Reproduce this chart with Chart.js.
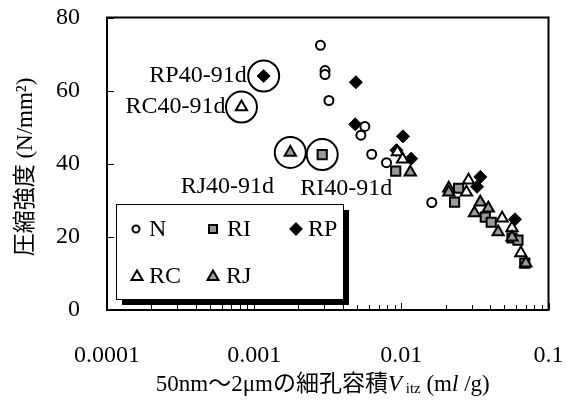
<!DOCTYPE html>
<html><head><meta charset="utf-8">
<script src="https://cdn.jsdelivr.net/npm/chart.js@4/dist/chart.umd.min.js"></script>
<style>html,body{margin:0;padding:0;background:#fff}#wrap{width:566px;height:409px}</style>
</head><body><div id="wrap"><canvas id="c" width="566" height="409"></canvas></div>
<script>
// ---- data ----
const xTickValues = [0.0001, 0.001, 0.01, 0.1];
const xTickLabels = ['0.0001', '0.001', '0.01', '0.1'];
const yTickValues = [0, 20, 40, 60, 80];

const N_x  = [0.00282, 0.00303, 0.00303, 0.00322, 0.00531, 0.00565, 0.00629, 0.00793, 0.0161];
const N_y  = [72.4, 65.5, 64.4, 57.3, 47.8, 50.2, 42.6, 40.3, 29.4];
const RI_x = [0.0029, 0.00916, 0.0245, 0.0230, 0.0372, 0.0408, 0.0565, 0.0620, 0.0690];
const RI_y = [42.5, 38.0, 33.3, 29.5, 25.4, 24.0, 19.7, 19.1, 12.8];
const RP_x = [0.00116, 0.00491, 0.00486, 0.01026, 0.00926, 0.01167, 0.0344, 0.0327, 0.0592];
const RP_y = [64.0, 62.3, 50.8, 47.5, 43.7, 41.4, 36.4, 33.7, 24.8];
const RC_x = [0.00082, 0.0094, 0.0102, 0.0210, 0.0286, 0.0277, 0.0484, 0.0565, 0.0649];
const RC_y = [55.5, 43.2, 41.2, 33.3, 35.5, 32.2, 25.1, 22.4, 15.6];
const RJ_x = [0.00176, 0.0115, 0.0210, 0.0344, 0.0314, 0.0390, 0.0455, 0.0565, 0.0701];
const RJ_y = [43.1, 37.7, 32.2, 29.5, 26.5, 27.8, 21.3, 19.9, 12.8];
const highlightNames = ['RP40-91d', 'RC40-91d', 'RJ40-91d', 'RI40-91d'];
const highlight_x = [0.00116, 0.00082, 0.00176, 0.0029];
const highlight_y = [64.0, 55.5, 43.1, 42.5];

// ---- styling ----
const FONT = "'Liberation Serif','Noto Sans CJK JP',serif";
const FS = 24;
const GRAY = '#999999';
const mk = (xs, ys) => xs.map((x, i) => ({x: x, y: ys[i]}));

const datasets = [
  {label:'RP', data:mk(RP_x,RP_y), pointStyle:'rectRot', pointRadius:6.5, backgroundColor:'#000', borderColor:'#000', borderWidth:1, order:5},
  {label:'N',  data:mk(N_x,N_y),   pointStyle:'circle',  pointRadius:4.5, backgroundColor:'#fff', borderColor:'#000', borderWidth:2, order:4},
  {label:'RI', data:mk(RI_x,RI_y), pointStyle:'rect',    pointRadius:6.5, backgroundColor:GRAY,  borderColor:'#000', borderWidth:2, order:3},
  {label:'RC', data:mk(RC_x,RC_y), pointStyle:'triangle',pointRadius:6.5, backgroundColor:'#fff', borderColor:'#000', borderWidth:2, order:2},
  {label:'RJ', data:mk(RJ_x,RJ_y), pointStyle:'triangle',pointRadius:6.5, backgroundColor:GRAY,  borderColor:'#000', borderWidth:2, order:1},
  {label:'circled', data:mk(highlight_x,highlight_y), pointStyle:'circle', pointRadius:15.5, backgroundColor:'rgba(0,0,0,0)', borderColor:'#000', borderWidth:2, order:0}
];

const framePlugin = {
  id:'frame',
  beforeDatasetsDraw(chart){
    const {ctx, chartArea:a, scales} = chart;
    ctx.save();
    ctx.strokeStyle = '#000';
    ctx.lineWidth = 2;
    ctx.strokeRect(a.left, a.top, a.right - a.left, a.bottom - a.top);
    ctx.lineWidth = 1;
    ctx.beginPath();
    yTickValues.forEach(v => {
      const y = Math.round(scales.y.getPixelForValue(v)) + 0.5;
      ctx.moveTo(a.left, y); ctx.lineTo(a.left + 7, y);
    });
    for (let d = 0; d < xTickValues.length; d++) {
      const base = xTickValues[d];
      for (let m = 1; m <= 9; m++) {
        const v = base * m;
        if (v > scales.x.max * 1.0001) break;
        const x = Math.round(scales.x.getPixelForValue(v)) + 0.5;
        ctx.moveTo(x, a.bottom); ctx.lineTo(x, a.bottom - (m === 1 ? 7 : 5));
      }
    }
    ctx.stroke();
    ctx.restore();
  }
};

const labelPlugin = {
  id:'labels',
  afterDatasetsDraw(chart){
    const {ctx, scales} = chart;
    const offs = [
      {dx:-17, dy:0, align:'right'},
      {dx:-16, dy:0, align:'right'},
      {dx:-63, dy:34, align:'center'},
      {dx:24, dy:34, align:'center'}
    ];
    ctx.save();
    ctx.fillStyle = '#000';
    ctx.font = FS + 'px ' + FONT;
    ctx.textBaseline = 'middle';
    highlightNames.forEach((name, i) => {
      const px = scales.x.getPixelForValue(highlight_x[i]);
      const py = scales.y.getPixelForValue(highlight_y[i]);
      ctx.textAlign = offs[i].align;
      ctx.fillText(name, px + offs[i].dx, py + offs[i].dy);
    });
    ctx.restore();
  }
};

function marker(ctx, style, x, y, fill) {
  ctx.beginPath();
  if (style === 'circle') { ctx.arc(x, y, 3.5, 0, Math.PI * 2); }
  else if (style === 'rect') { ctx.rect(x - 4, y - 4, 8, 8); }
  else if (style === 'rectRot') { ctx.moveTo(x, y - 5.5); ctx.lineTo(x + 5.5, y); ctx.lineTo(x, y + 5.5); ctx.lineTo(x - 5.5, y); ctx.closePath(); }
  else if (style === 'triangle') { ctx.moveTo(x, y - 5.5); ctx.lineTo(x + 5.5, y + 4); ctx.lineTo(x - 5.5, y + 4); ctx.closePath(); }
  ctx.fillStyle = fill; ctx.fill();
  ctx.lineWidth = 2; ctx.strokeStyle = '#000'; ctx.stroke();
}

const legendPlugin = {
  id:'customLegend',
  afterDraw(chart){
    const ctx = chart.ctx;
    ctx.save();
    const L = 116, T = 204, W = 227, H = 95, S = 6;
    ctx.fillStyle = '#000'; ctx.fillRect(L + S, T + S, W, H);
    ctx.fillStyle = '#fff'; ctx.fillRect(L, T, W, H);
    ctx.lineWidth = 1; ctx.strokeStyle = '#000'; ctx.strokeRect(L + 0.5, T + 0.5, W, H);
    const pos = {N:[136,229,149], RI:[213,229,227], RP:[296,229,308], RC:[137,276,149], RJ:[213,276,226]};
    ctx.font = FS + 'px ' + FONT;
    ctx.textBaseline = 'middle';
    ctx.textAlign = 'left';
    chart.data.datasets.forEach(ds => {
      const p = pos[ds.label];
      if (!p) return;
      marker(ctx, ds.pointStyle, p[0], p[1], ds.backgroundColor);
      ctx.fillStyle = '#000';
      ctx.fillText(ds.label, p[2], p[1] + 1);
    });
    ctx.restore();
  }
};

const titlePlugin = {
  id:'titles',
  afterDraw(chart){
    const ctx = chart.ctx;
    const a = chart.chartArea;
    ctx.save();
    ctx.fillStyle = '#000';
    ctx.translate(26, 167);
    ctx.rotate(-Math.PI / 2);
    ctx.font = '23px ' + FONT;
    ctx.textAlign = 'center';
    ctx.textBaseline = 'middle';
    ctx.fillText('圧縮強度 (N/mm²)', 0, 0);
    ctx.restore();
    ctx.save();
    ctx.fillStyle = '#000';
    ctx.textBaseline = 'alphabetic';
    ctx.textAlign = 'left';
    const segs = [
      {t:'50nm～2μmの細孔容積', f:'23px ' + FONT, dy:0},
      {t:'V', f:'italic 23px ' + FONT, dy:0},
      {t:' itz', f:'15px ' + FONT, dy:2},
      {t:' (m', f:'23px ' + FONT, dy:0},
      {t:'l', f:'italic 23px ' + FONT, dy:0},
      {t:' /g)', f:'23px ' + FONT, dy:0}
    ];
    let total = 0;
    segs.forEach(s => { ctx.font = s.f; s.w = ctx.measureText(s.t).width; total += s.w; });
    let x = (a.left + a.right) / 2 - total / 2 - 5;
    const base = 391;
    segs.forEach(s => { ctx.font = s.f; ctx.fillText(s.t, x, base + s.dy); x += s.w; });
    ctx.restore();
  }
};

new Chart(document.getElementById('c'), {
  type:'scatter',
  data:{datasets:datasets},
  options:{
    responsive:false,
    animation:false,
    events:[],
    layout:{padding:{top:17, right:12, left:0, bottom:0}},
    plugins:{legend:{display:false}, tooltip:{enabled:false}},
    scales:{
      x:{
        type:'logarithmic', min:0.0001, max:0.1,
        grid:{display:false}, border:{display:false},
        afterBuildTicks:s => { s.ticks = xTickValues.map(v => ({value:v})); },
        afterFit:s => { s.height = 99; s.paddingLeft = 0; s.paddingRight = 0; },
        ticks:{autoSkip:false, maxRotation:0, minRotation:0, padding:23, color:'#000',
          font:{family:FONT, size:FS},
          callback:(v) => { const i = xTickValues.indexOf(v); return i >= 0 ? xTickLabels[i] : ''; }}
      },
      y:{
        min:0, max:80,
        grid:{display:false}, border:{display:false},
        afterBuildTicks:s => { s.ticks = yTickValues.map(v => ({value:v})); },
        afterFit:s => { s.width = 107; s.paddingTop = 0; s.paddingBottom = 0; },
        ticks:{padding:19, color:'#000', font:{family:FONT, size:FS}, callback:v => String(v)}
      }
    }
  },
  plugins:[framePlugin, labelPlugin, legendPlugin, titlePlugin]
});
</script>
</body></html>
